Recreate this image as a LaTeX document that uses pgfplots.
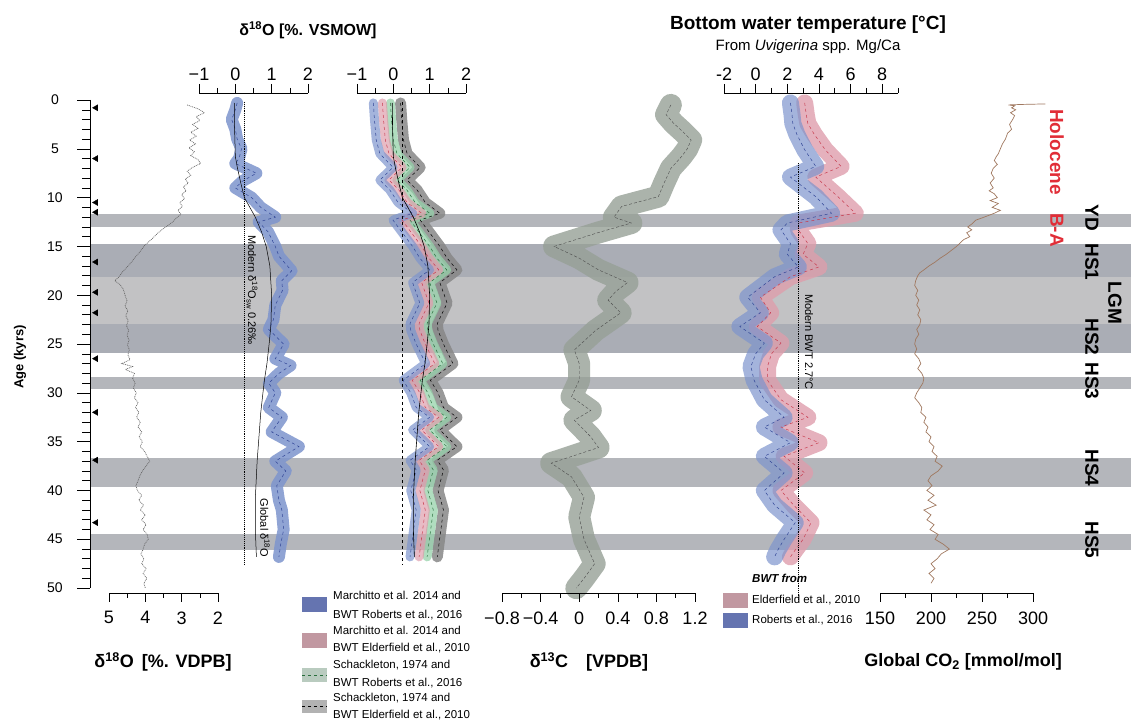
\documentclass[border=0pt]{standalone}
\usepackage{pgfplots}
\pgfplotsset{compat=1.18}
\usepackage{pgfplotstable}
\usepackage{fontspec}
\setmainfont{Liberation Sans}
\newcommand{\fs}[1]{\fontsize{#1}{#1}\selectfont}

\definecolor{bandA}{RGB}{180,182,187}
\definecolor{bandD}{RGB}{170,173,181}
\definecolor{bandL}{RGB}{194,194,196}
\definecolor{mblue}{RGB}{125,148,205}
\definecolor{mbluedk}{RGB}{50,70,150}
\definecolor{mpink}{RGB}{222,158,172}
\definecolor{mred}{RGB}{200,60,80}
\definecolor{mgreen}{RGB}{150,210,170}
\definecolor{mgreendk}{RGB}{40,110,60}
\definecolor{mgrey}{RGB}{135,135,135}
\definecolor{cgrey}{RGB}{150,160,150}
\definecolor{co2c}{RGB}{160,120,95}
\definecolor{lblred}{RGB}{225,45,55}

\pgfplotstableread{
age c
0.5 2.85
0.9 2.55
1.3 2.37
1.7 2.6
2.1 2.5
2.5 2.7
2.9 2.55
3.3 2.75
3.7 2.6
4.1 2.78
4.5 2.62
4.9 2.8
5.3 2.65
5.7 2.75
6.1 2.55
6.5 2.48
6.9 2.7
7.3 2.85
7.7 2.75
8.1 2.9
8.5 2.82
8.9 2.95
9.3 2.88
9.7 3.0
10.1 2.92
10.5 3.05
10.9 2.98
11.3 3.1
11.7 3.02
12.1 3.15
12.5 3.25
12.9 3.4
13.3 3.55
13.7 3.68
14.1 3.78
14.5 3.9
14.9 4.02
15.3 4.1
15.7 4.18
16.1 4.28
16.5 4.36
16.9 4.45
17.3 4.55
17.7 4.65
18.1 4.72
18.5 4.84
18.9 4.7
19.3 4.62
19.7 4.58
20.1 4.55
20.6 4.5
21.1 4.56
21.6 4.48
22.1 4.54
22.6 4.47
23.1 4.52
23.6 4.46
24.1 4.5
24.6 4.45
25.1 4.49
25.6 4.44
26.1 4.48
26.6 4.42
27.0 4.65
27.3 4.35
27.6 4.55
28.0 4.3
28.5 4.35
29.0 4.28
29.5 4.33
30.0 4.25
30.5 4.3
31.0 4.2
31.5 4.27
32.0 4.18
32.5 4.24
33.0 4.14
33.5 4.2
34.0 4.1
34.5 4.17
35.0 4.08
35.5 4.14
36.0 4.02
36.5 3.95
37.0 3.88
37.5 3.98
38.0 4.08
38.5 4.15
39.0 4.2
39.5 4.26
40.0 4.22
40.5 4.1
41.0 4.18
41.5 4.05
42.0 4.14
42.5 4.0
43.0 4.1
43.5 3.98
44.0 4.06
44.5 3.95
45.0 3.92
45.5 4.02
46.0 4.06
46.5 4.12
47.0 4.04
47.5 4.1
48.0 3.98
48.5 4.06
49.0 3.96
49.5 4.04
50.0 4.0
}\tblBen

\pgfplotstableread{
age c
0.3 0.05
1.0 0.0
2.0 -0.1
3.0 0.0
4.0 0.05
5.0 0.17
6.0 0.1
6.5 0.0
7.5 0.58
8.3 0.2
9.0 0.0
10.0 0.45
11.0 0.7
12.0 1.1
12.5 0.64
13.5 0.9
15.0 1.1
16.0 1.2
17.5 1.55
18.5 1.28
19.5 1.3
21.0 1.1
22.5 1.05
23.5 0.92
25.0 1.33
26.5 1.1
27.2 1.52
28.0 1.2
29.0 0.92
30.0 1.1
31.5 0.92
32.5 1.28
34.0 1.0
35.5 1.75
37.0 1.1
38.0 1.39
39.5 1.14
41.0 1.2
42.0 1.28
44.0 1.33
45.5 1.25
46.8 1.2
}\tblPtwo

\pgfplotstableread{
age c
0.3 -0.03
3.0 -0.02
5.8 0.0
7.0 0.06
8.5 0.15
10.0 0.25
11.0 0.4
12.0 0.55
13.5 0.72
15.0 0.85
17.0 0.95
20.0 1.0
23.0 0.98
25.0 0.93
27.0 0.87
28.7 0.8
30.0 0.76
32.0 0.7
35.0 0.64
37.0 0.6
40.8 0.55
44.0 0.55
46.8 0.58
}\tblGlob

\pgfplotstableread{
age c
0.3 -0.08
2.0 -0.05
4.1 0.0
5.5 0.1
6.9 0.46
8.2 0.1
9.2 0.37
10.5 0.6
11.6 1.0
12.3 0.46
13.5 0.7
15.0 1.0
16.2 1.2
17.4 1.47
18.7 1.0
20.8 1.2
22.9 0.93
23.6 0.95
25.0 1.1
27.0 1.36
28.7 0.74
30.0 0.95
31.5 1.1
32.5 1.47
33.8 1.0
35.5 1.47
36.9 0.93
37.9 1.1
40.0 0.95
42.0 1.1
44.8 1.0
46.8 0.93
}\tblPthree

\pgfplotstableread{
age c
0.5 0.95
1.5 0.90
2.4 0.98
3.3 1.08
4.1 1.16
5.0 1.12
5.8 1.06
7.0 0.95
8.5 0.88
9.9 0.82
10.9 0.44
12.0 0.36
12.6 0.54
13.6 0.19
15.0 -0.26
16.2 0.0
17.4 0.2
18.7 0.5
19.6 0.38
20.5 0.3
21.8 0.43
22.7 0.3
23.6 0.17
25.6 -0.05
27.0 0.0
28.7 0.0
30.4 -0.08
31.8 0.12
32.8 -0.05
34.5 0.12
35.6 0.2
37.2 -0.29
38.6 -0.08
40.7 0.05
42.7 0.0
45.0 0.05
47.5 0.16
49.0 0.05
50.0 -0.03
}\tblCarb

\pgfplotstableread{
age b p
0.3 2.2 3.1
1.5 2.3 3.2
2.4 2.35 3.3
3.5 2.6 3.7
5.1 3.1 4.4
6.8 3.8 5.4
7.9 2.2 3.8
9.9 3.8 5.2
11.6 4.8 6.3
12.6 2.0 2.7
13.3 1.6 2.7
14.7 2.2 3.3
15.8 2.0 3.0
17.1 2.7 4.0
18.1 1.2 2.2
20.2 -0.5 0.3
21.8 0.3 0.95
23.2 -1.0 0.1
24.9 0.55 1.6
26.0 0.0 1.0
27.3 -0.3 0.75
28.7 -0.1 0.75
30.7 0.55 1.6
32.5 1.8 3.3
33.5 0.55 1.6
35.1 2.2 4.0
36.5 0.55 1.8
38.2 1.8 3.1
40.0 0.55 1.6
41.5 1.2 2.4
43.3 2.5 3.5
45.0 1.8 3.0
46.1 1.4 2.5
46.8 1.2 2.2
}\tblBWT

\pgfplotstableread{
age c
0.40 312
0.45 290
0.50 276
0.6 282
0.8 279
1.0 283
1.3 278
1.6 282
2.0 280
2.5 277
3.0 279
3.4 275
4.0 273
4.5 270
5.0 268
5.5 266
5.8 264
6.2 262
6.6 265
7.0 261
7.5 259
8.0 262
8.5 258
9.0 261
9.3 257
9.6 262
10.0 265
10.3 258
10.6 266
11.0 260
11.3 268
11.6 262
12.0 252
12.3 244
12.7 240
13.0 236
13.3 240
13.6 235
14.0 238
14.3 232
14.7 228
15.0 225
15.4 220
15.8 215
16.2 209
16.6 204
17.0 198
17.4 193
17.7 189
18.0 187
18.5 185
19.0 184
19.5 187
20.0 185
20.5 188
21.0 186
21.5 189
22.0 187
22.5 190
23.0 189
23.5 186
24.0 188
24.5 185
25.0 184
25.5 186
26.0 184
26.5 188
27.0 190
27.5 187
28.0 191
28.5 193
29.0 192
29.5 189
30.0 186
30.5 184
31.0 188
31.5 191
32.0 190
32.5 195
33.0 193
33.5 197
34.0 195
34.5 200
35.0 198
35.5 203
36.0 201
36.5 206
37.0 204
37.5 211
38.0 207
38.5 200
39.0 197
39.5 201
40.0 196
40.5 203
41.0 197
41.5 205
42.0 193
42.5 200
43.0 196
43.5 203
44.0 199
44.5 207
45.0 204
45.5 212
46.0 218
46.5 210
47.0 206
47.5 200
48.0 204
48.5 198
49.0 203
49.5 200
}\tblCO

\pgfplotsset{
 panel/.style={scale only axis, height=500pt, ymin=-0.72, ymax=50.5, y dir=reverse, hide axis, anchor=north west, clip=false},
 band/.style={line join=round, line cap=round},
 tickbase/.style={scale only axis, height=10pt, ymin=0, ymax=1, axis y line=none, tick align=outside,
   major tick length=9pt, minor tick length=5pt, tick style={black, line width=0.5pt},
   axis line style={black, line width=0.6pt}, xticklabel style={font=\fs{18}},
   /pgf/number format/assume math mode=true},
 tickbot/.style={tickbase, axis x line*=bottom, anchor=south west, xticklabel style={yshift=-6pt}},
 ticktop/.style={tickbase, axis x line*=top, anchor=north west},
}

\begin{document}
\begin{tikzpicture}[x=1pt,y=1pt]
\path[use as bounding box] (0,0) rectangle (1131,722);

% event bands
\begin{axis}[scale only axis, width=1041pt, height=500pt, at={(90pt,629pt)}, anchor=north west,
  xmin=0, xmax=1, ymin=-0.72, ymax=50.5, y dir=reverse, hide axis]
\addplot[draw=none, fill=bandA] coordinates {(0,11.7)(1,11.7)(1,13.0)(0,13.0)} -- cycle;
\addplot[draw=none, fill=bandD] coordinates {(0,14.75)(1,14.75)(1,18.1)(0,18.1)} -- cycle;
\addplot[draw=none, fill=bandL] coordinates {(0,18.1)(1,18.1)(1,22.9)(0,22.9)} -- cycle;
\addplot[draw=none, fill=bandD] coordinates {(0,22.9)(1,22.9)(1,25.9)(0,25.9)} -- cycle;
\addplot[draw=none, fill=bandA] coordinates {(0,28.4)(1,28.4)(1,29.6)(0,29.6)} -- cycle;
\addplot[draw=none, fill=bandA] coordinates {(0,36.7)(1,36.7)(1,39.6)(0,39.6)} -- cycle;
\addplot[draw=none, fill=bandA] coordinates {(0,44.5)(1,44.5)(1,46.1)(0,46.1)} -- cycle;
\end{axis}

% age axis
\begin{axis}[scale only axis, width=10pt, height=488pt, at={(90pt,622pt)}, anchor=north west,
  xmin=0, xmax=10, ymin=0, ymax=50, y dir=reverse, axis y line*=left, axis x line=none,
  tick align=outside, ytick={0,5,...,50}, yticklabels={}, minor y tick num=4, major tick length=13pt, minor tick length=8pt,
  tick style={black, line width=0.5pt}, axis line style={black, line width=0.6pt}, clip=false]
\addplot[only marks, mark=triangle*, mark size=3.5pt, mark options={rotate=90, fill=black, draw=black}]
 coordinates {(6,0.8)(6,6.0)(6,10.5)(6,11.5)(6,16.6)(6,19.7)(6,21.8)(6,26.5)(6,32.0)(6,36.9)(6,43.3)};
\end{axis}
\foreach \a in {0,5,...,50} \node[font=\fs{14}] at (55,{622-9.76*\a}) {\a};

% panel 1 benthic d18O
\begin{axis}[panel, width=109pt, at={(109pt,629pt)}, xmin=2, xmax=5, x dir=reverse]
\addplot[black!60, line width=0.7pt, dash pattern=on 0.9pt off 0.9pt] table[x=c,y=age]{\tblBen};
\end{axis}
\begin{axis}[tickbot, width=109pt, at={(109pt,129pt)}, xmin=2, xmax=5, x dir=reverse,
  xtick={2,3,4,5}, minor xtick={2.5,3.5,4.5}]
\end{axis}

% panel 2 d18Osw
\begin{axis}[panel, width=109pt, at={(199pt,629pt)}, xmin=-1, xmax=2]
\addplot[band, mblue, draw opacity=0.85, line width=12pt] table[x=c,y=age]{\tblPtwo};
\addplot[mbluedk, dashed, line width=0.5pt] table[x=c,y=age]{\tblPtwo};
\addplot[black, line width=0.5pt] table[x=c,y=age]{\tblGlob};
\addplot[black, densely dotted, line width=0.9pt] coordinates {(0.26,0.2)(0.26,47.6)};
\end{axis}
\begin{axis}[ticktop, width=109pt, at={(199pt,629pt)}, xmin=-1, xmax=2,
  xtick={-1,0,1,2}, xticklabels={−1,0,1,2}, minor xtick={-0.5,0.5,1.5}]
\end{axis}

% panel 3 d18Osw four versions
\begin{axis}[panel, width=109pt, at={(357pt,629pt)}, xmin=-1, xmax=2]
\addplot[band, mgrey, draw opacity=0.85, line width=11pt] table[x expr=\thisrow{c}+0.28, y=age]{\tblPthree};
\addplot[band, mgreen, draw opacity=0.75, line width=9pt] table[x=c, y=age]{\tblPthree};
\addplot[band, mpink, draw opacity=0.7, line width=9pt] table[x expr=\thisrow{c}-0.22, y=age]{\tblPthree};
\addplot[band, mblue, draw opacity=0.7, line width=9pt] table[x expr=\thisrow{c}-0.47, y=age]{\tblPthree};
\addplot[black, dashed, line width=0.5pt] table[x expr=\thisrow{c}+0.28, y=age]{\tblPthree};
\addplot[mgreendk, dashed, line width=0.5pt] table[x=c, y=age]{\tblPthree};
\addplot[mred, dashed, line width=0.5pt] table[x expr=\thisrow{c}-0.22, y=age]{\tblPthree};
\addplot[mbluedk, dashed, line width=0.5pt] table[x expr=\thisrow{c}-0.47, y=age]{\tblPthree};
\addplot[black, line width=0.6pt] table[x=c,y=age]{\tblGlob};
\addplot[black, dashed, line width=0.7pt] coordinates {(0.26,0.2)(0.26,47.6)};
\end{axis}
\begin{axis}[ticktop, width=109pt, at={(357pt,629pt)}, xmin=-1, xmax=2,
  xtick={-1,0,1,2}, xticklabels={−1,0,1,2}, minor xtick={-0.5,0.5,1.5}]
\end{axis}

% panel 4 d13C
\begin{axis}[panel, width=193pt, at={(502pt,629pt)}, xmin=-0.8, xmax=1.2]
\addplot[band, cgrey, draw opacity=0.8, line width=22pt] table[x=c,y=age]{\tblCarb};
\addplot[black!70, densely dashed, line width=0.4pt] table[x=c,y=age]{\tblCarb};
\end{axis}
\begin{axis}[tickbot, width=193pt, at={(502pt,129pt)}, xmin=-0.8, xmax=1.2,
  xtick={-0.8,-0.4,0,0.4,0.8,1.2}, xticklabels={−0.8,−0.4,0,0.4,0.8,1.2}, minor xtick={-0.6,-0.2,0.2,0.6,1.0}]
\end{axis}

% panel 5 BWT
\begin{axis}[panel, width=174pt, at={(724pt,629pt)}, xmin=-2, xmax=9]
\addplot[band, mpink, draw opacity=0.8, line width=17pt] table[x=p,y=age]{\tblBWT};
\addplot[band, mblue, draw opacity=0.7, line width=17pt] table[x=b,y=age]{\tblBWT};
\addplot[mred, dashed, line width=0.5pt] table[x=p,y=age]{\tblBWT};
\addplot[mbluedk, dashed, line width=0.5pt] table[x=b,y=age]{\tblBWT};
\addplot[black, densely dotted, line width=0.8pt] coordinates {(2.7,6.5)(2.7,51.2)};
\end{axis}
\begin{axis}[ticktop, width=174pt, at={(724pt,629pt)}, xmin=-2, xmax=9,
  xtick={-2,0,2,4,6,8}, xticklabels={-2,0,2,4,6,8}, minor xtick={-1,1,3,5,7,9}]
\end{axis}

% panel 6 CO2
\begin{axis}[panel, width=153pt, at={(880pt,629pt)}, xmin=150, xmax=300]
\addplot[co2c, line width=0.7pt] table[x=c,y=age]{\tblCO};
\end{axis}
\begin{axis}[tickbot, width=153pt, at={(880pt,129pt)}, xmin=150, xmax=300,
  xtick={150,200,250,300}, minor xtick={175,225,275}]
\end{axis}

% titles
\node[font=\bfseries\fs{16}] at (308,692) {δ\textsuperscript{18}O [\%. VSMOW]};
\node[font=\bfseries\fs{19}] at (808,697) {Bottom water temperature [°C]};
\node[font=\fs{15}] at (808,675) {From \textit{Uvigerina} spp. Mg/Ca};
\node[font=\bfseries\fs{18}] at (163,60) {δ\textsuperscript{18}O\, [\%. VDPB]};
\node[font=\bfseries\fs{18}] at (589,60) {δ\textsuperscript{13}C\quad[VPDB]};
\node[font=\bfseries\fs{18}] at (963,60) {Global CO\textsubscript{2} [mmol/mol]};
\node[font=\bfseries\fs{13}, rotate=90] at (20,365) {Age (kyrs)};

% event labels
\node[font=\bfseries\fs{19}, rotate=-90, text=lblred] at (1057,570) {Holocene};
\node[font=\bfseries\fs{19}, rotate=-90, text=lblred] at (1057,492) {B-A};
\node[font=\bfseries\fs{19}, rotate=-90] at (1092,504) {YD};
\node[font=\bfseries\fs{19}, rotate=-90] at (1092,460) {HS1};
\node[font=\bfseries\fs{19}, rotate=-90] at (1115,419) {LGM};
\node[font=\bfseries\fs{19}, rotate=-90] at (1092,385) {HS2};
\node[font=\bfseries\fs{19}, rotate=-90] at (1092,341) {HS3};
\node[font=\bfseries\fs{19}, rotate=-90] at (1092,254) {HS4};
\node[font=\bfseries\fs{19}, rotate=-90] at (1092,182) {HS5};

% in-plot notes
\node[font=\fs{11}, rotate=-90] at (252,432) {Modern δ\textsuperscript{18}O\textsubscript{sw} 0.26‰};
\node[font=\fs{11}, rotate=-90] at (265,194) {Global δ\textsuperscript{18}O};
\node[font=\fs{11}, rotate=-90] at (809,380) {Modern BWT 2.7°C};

% middle legend
\fill[mbluedk!75] (302,110) rectangle (327,125);
\fill[mpink!80!black!80] (302,74) rectangle (327,89);
\fill[mgreen!50!gray!60] (302,40) rectangle (327,54);
\draw[mgreendk, dashed, line width=0.6pt] (302,47) -- (327,47);
\fill[gray!60] (302,9) rectangle (327,22);
\draw[black, dashed, line width=0.6pt] (302,15.5) -- (327,15.5);
\begin{scope}[every node/.style={font=\fs{11.5}, anchor=west, inner sep=0pt}]
\node at (333,127) {Marchitto et al. 2014 and};
\node at (333,107) {BWT Roberts et al., 2016};
\node at (333,92) {Marchitto et al. 2014 and};
\node at (333,74) {BWT Elderfield et al., 2010};
\node at (333,57) {Schackleton, 1974 and};
\node at (333,39) {BWT Roberts et al., 2016};
\node at (333,24) {Schackleton, 1974 and};
\node at (333,7) {BWT Elderfield et al., 2010};
\node[font=\bfseries\itshape\fs{11.5}] at (752,144) {BWT from};
\node at (752,122) {Elderfield et al., 2010};
\node at (752,102) {Roberts et al., 2016};
\end{scope}
\fill[mpink!80!black!80] (723,114) rectangle (748,129);
\fill[mbluedk!75] (723,94) rectangle (748,109);
\end{tikzpicture}
\end{document}
